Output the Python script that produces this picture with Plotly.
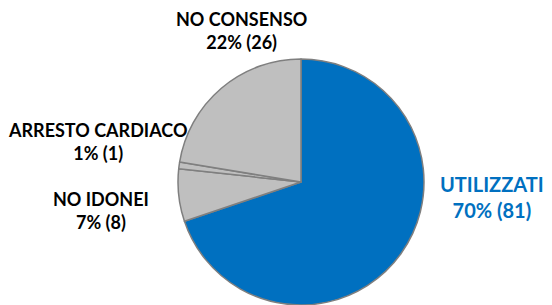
import plotly.graph_objects as go

labels = ["UTILIZZATI", "NO IDONEI", "ARRESTO CARDIACO", "NO CONSENSO"]
values = [81, 8, 1, 26]
colors = ["#0070C0", "#BFBFBF", "#BFBFBF", "#BFBFBF"]
label_colors = ["#0070C0", "#000000", "#000000", "#000000"]

# page body has an 8px default margin; size the figure to fill the rest
OFF = 8
W, H = 552 - OFF, 305 - OFF
cx, cy, r = 301 - OFF, 182 - OFF, 123

fig = go.Figure(go.Pie(
    labels=labels, values=values, sort=False, direction="clockwise", rotation=0,
    marker=dict(colors=colors, line=dict(color="#7F7F7F", width=1.5)),
    textinfo="none", hoverinfo="label+percent+value", showlegend=False,
    domain=dict(x=[(cx - r) / W, (cx + r) / W], y=[(H - cy - r) / H, (H - cy + r) / H]),
))

# label placement (pixels in the window, block centre) and sizes
pos = {
    "UTILIZZATI": (492, 197, 20),
    "NO IDONEI": (101, 210, 18),
    "ARRESTO CARDIACO": (97, 141, 18),
    "NO CONSENSO": (241, 31, 18),
}
total = sum(values)
for lab, v, col in zip(labels, values, label_colors):
    x, y, s = pos[lab]
    pct = round(100 * v / total)
    fig.add_annotation(
        x=(x - OFF) / W, y=1 - (y - OFF) / H, xref="paper", yref="paper",
        text=f"{lab}<br>{pct}% ({v})", showarrow=False,
        xanchor="center", yanchor="middle", align="center",
        font=dict(family="Lato", size=s, color=col, weight="bold"),
    )

fig.update_layout(
    width=W, height=H, margin=dict(l=0, r=0, t=0, b=0),
    paper_bgcolor="white", plot_bgcolor="white",
)
fig.write_html("out.html")
